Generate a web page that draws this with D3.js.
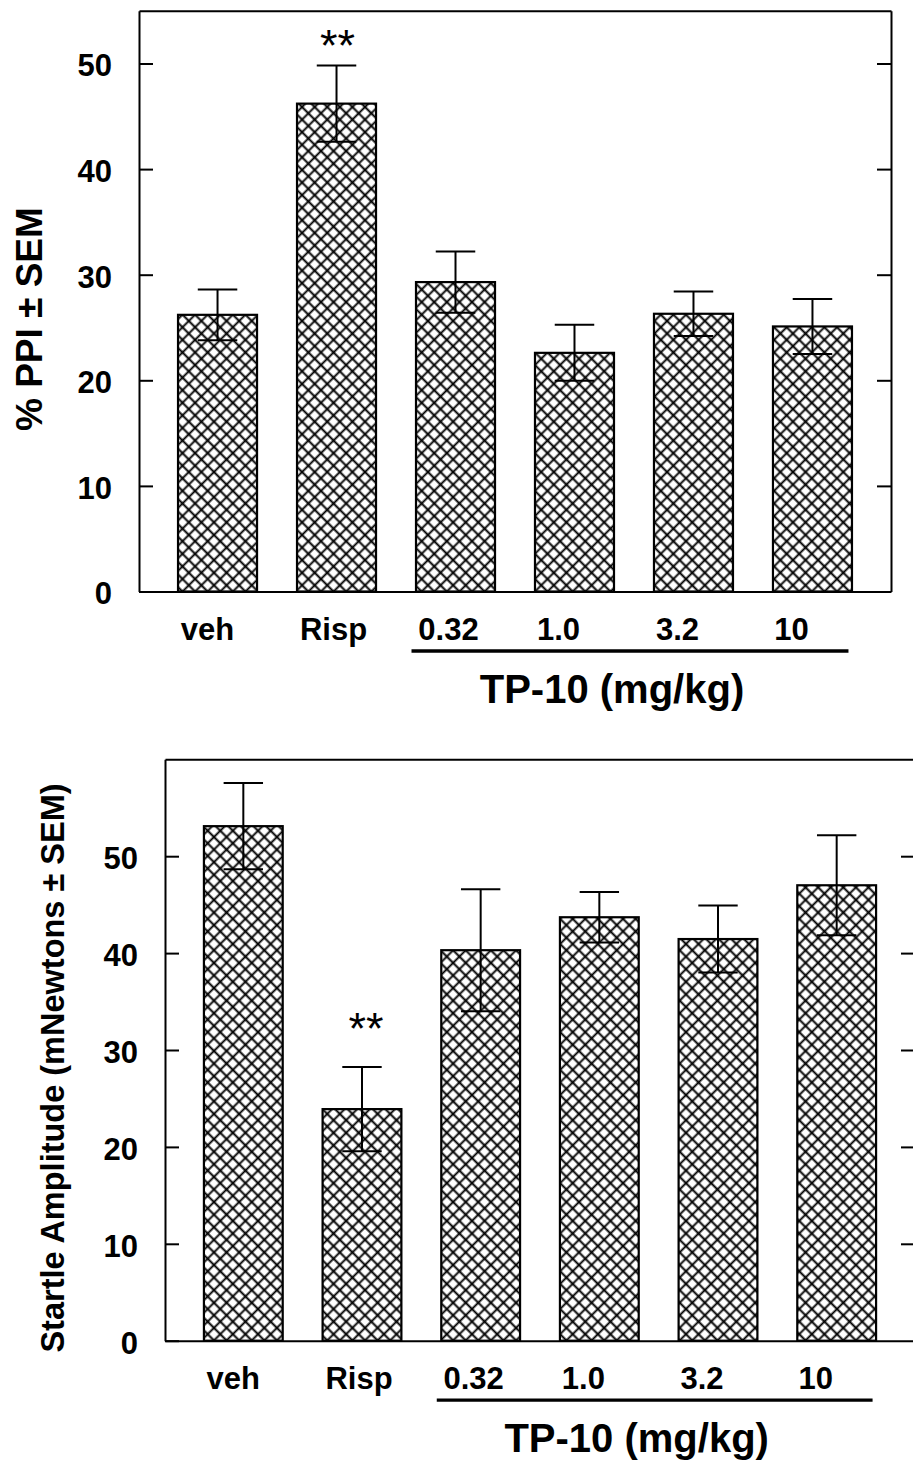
<!DOCTYPE html>
<html>
<head>
<meta charset="utf-8">
<script src="https://cdn.jsdelivr.net/npm/d3@7"></script>
<style>
  body { margin: 0; background: #fff; }
  svg { display: block; }
  text { font-family: "Liberation Sans", Arial, Helvetica, sans-serif; fill: #000; }
</style>
</head>
<body>
<div id="chart"></div>
<script>
// groups on the x axis
const groups = ["veh", "Risp", "0.32", "1.0", "3.2", "10"];
const tp10Doses = ["0.32", "1.0", "3.2", "10"];
const doseTitle = "TP-10 (mg/kg)";

// top panel: % PPI
const ppiMean = [26.2, 46.2, 29.3, 22.6, 26.3, 25.1];
const ppiSem = [2.4, 3.6, 2.9, 2.65, 2.1, 2.6];
const ppiStars = ["", "**", "", "", "", ""];

// bottom panel: startle amplitude
const startleMean = [53.1, 23.9, 40.3, 43.7, 41.45, 47.0];
const startleSem = [4.45, 4.35, 6.3, 2.6, 3.45, 5.15];
const startleStars = ["", "**", "", "", "", ""];

const yTickValues = [0, 10, 20, 30, 40, 50];
const rightTickValues = [10, 20, 30, 40, 50];

// labels in the original sit a little left of the bar centres
const labelNudge = [-10, -3, -7, -16, -16, -21];

const svg = d3.select("#chart").append("svg")
    .attr("width", 913)
    .attr("height", 1464);

svg.append("rect").attr("width", 913).attr("height", 1464).attr("fill", "#fff");

// cross hatch fill
const s = 8.9;
const pat = svg.append("defs").append("pattern")
    .attr("id", "xhatch")
    .attr("patternUnits", "userSpaceOnUse")
    .attr("width", s)
    .attr("height", s)
    .attr("patternTransform", "rotate(45)");
pat.append("rect").attr("width", s).attr("height", s).attr("fill", "#fff");
pat.append("path")
    .attr("d", `M${s / 2},0V${s}M0,${s / 2}H${s}`)
    .attr("stroke", "#000")
    .attr("stroke-width", 1.9);

function drawPanel(p) {
  const x = d3.scaleBand()
      .domain(groups)
      .range([p.left, p.right])
      .paddingInner(0.336)
      .paddingOuter(0.328);
  const y = d3.scaleLinear().domain([0, p.yMax]).range([p.bottom, p.top]);
  const bw = x.bandwidth();
  const data = groups.map((g, i) => ({ g: g, m: p.mean[i], e: p.sem[i], star: p.stars[i], i: i }));

  const g = svg.append("g");

  g.selectAll("rect.bar").data(data).enter()
      .append("rect")
      .attr("class", "bar")
      .attr("x", d => x(d.g))
      .attr("y", d => y(d.m))
      .attr("width", bw)
      .attr("height", d => y(0) - y(d.m))
      .attr("fill", "url(#xhatch)")
      .attr("stroke", "#000")
      .attr("stroke-width", 2.2);

  const err = g.selectAll("g.err").data(data).enter().append("g")
      .attr("class", "err")
      .attr("stroke", "#000")
      .attr("stroke-width", 2);
  err.append("line")
      .attr("x1", d => x(d.g) + bw / 2).attr("x2", d => x(d.g) + bw / 2)
      .attr("y1", d => y(d.m - d.e)).attr("y2", d => y(d.m + d.e));
  err.append("line")
      .attr("x1", d => x(d.g) + bw / 4).attr("x2", d => x(d.g) + bw * 3 / 4)
      .attr("y1", d => y(d.m + d.e)).attr("y2", d => y(d.m + d.e));
  err.append("line")
      .attr("x1", d => x(d.g) + bw / 4).attr("x2", d => x(d.g) + bw * 3 / 4)
      .attr("y1", d => y(d.m - d.e)).attr("y2", d => y(d.m - d.e));

  g.selectAll("text.star").data(data.filter(d => d.star)).enter()
      .append("text")
      .attr("class", "star")
      .attr("x", d => x(d.g) + bw / 2 + p.starNudge)
      .attr("y", d => y(d.m + d.e) - p.starGap)
      .attr("text-anchor", "middle")
      .style("font-size", "45px")
      .text(d => d.star);

  // frame
  g.append("g")
      .attr("transform", `translate(0,${p.top})`)
      .call(d3.axisTop(x).tickSize(0).tickFormat(""));
  g.append("g")
      .attr("transform", `translate(${p.right},0)`)
      .call(d3.axisRight(y).tickValues(rightTickValues).tickSizeInner(-14).tickSizeOuter(0).tickFormat(""));
  g.append("g")
      .attr("transform", `translate(${p.left},0)`)
      .call(d3.axisLeft(y).tickValues(yTickValues).tickSizeInner(-14).tickSizeOuter(0).tickPadding(27))
      .call(a => a.selectAll("text").attr("dy", "0.4em"));
  g.append("g")
      .attr("transform", `translate(0,${p.bottom})`)
      .call(d3.axisBottom(x).tickSize(0).tickPadding(26))
      .call(a => a.selectAll("text").attr("x", (d, i) => labelNudge[i]));

  g.selectAll(".domain, .tick line").attr("stroke", "#000").attr("stroke-width", 2);
  g.selectAll(".tick text")
      .attr("fill", "#000")
      .style("font-family", "'Liberation Sans', Arial, sans-serif")
      .style("font-size", "31px")
      .style("font-weight", "bold");

  // dose bracket and title
  const x0 = x(tp10Doses[0]) - 4.5;
  const x1 = x(tp10Doses[tp10Doses.length - 1]) + bw - 3.5;
  g.append("line")
      .attr("x1", x0).attr("x2", x1)
      .attr("y1", p.bottom + 59.5).attr("y2", p.bottom + 59.5)
      .attr("stroke", "#000")
      .attr("stroke-width", 3.3);
  g.append("text")
      .attr("x", (x0 + x1) / 2 - 18)
      .attr("y", p.bottom + 111)
      .attr("text-anchor", "middle")
      .style("font-size", "40px")
      .style("font-weight", "bold")
      .text(doseTitle);

  g.append("text")
      .attr("transform", `translate(${p.yTitleX},${(p.top + p.bottom) / 2 + 18}) rotate(-90)`)
      .attr("text-anchor", "middle")
      .style("font-size", p.yTitleSize + "px")
      .style("font-weight", "bold")
      .text(p.yTitle);
}

drawPanel({
  mean: ppiMean, sem: ppiSem, stars: ppiStars, yMax: 55,
  left: 139, right: 891, top: 10.7, bottom: 591.5,
  yTitle: "% PPI ± SEM", yTitleX: 42, yTitleSize: 37,
  starGap: 5, starNudge: 1
});

drawPanel({
  mean: startleMean, sem: startleSem, stars: startleStars, yMax: 60,
  left: 165, right: 915, top: 759.3, bottom: 1340.7,
  yTitle: "Startle Amplitude (mNewtons ± SEM)", yTitleX: 63.5, yTitleSize: 32.5,
  starGap: 23, starNudge: 4
});
</script>
</body>
</html>
